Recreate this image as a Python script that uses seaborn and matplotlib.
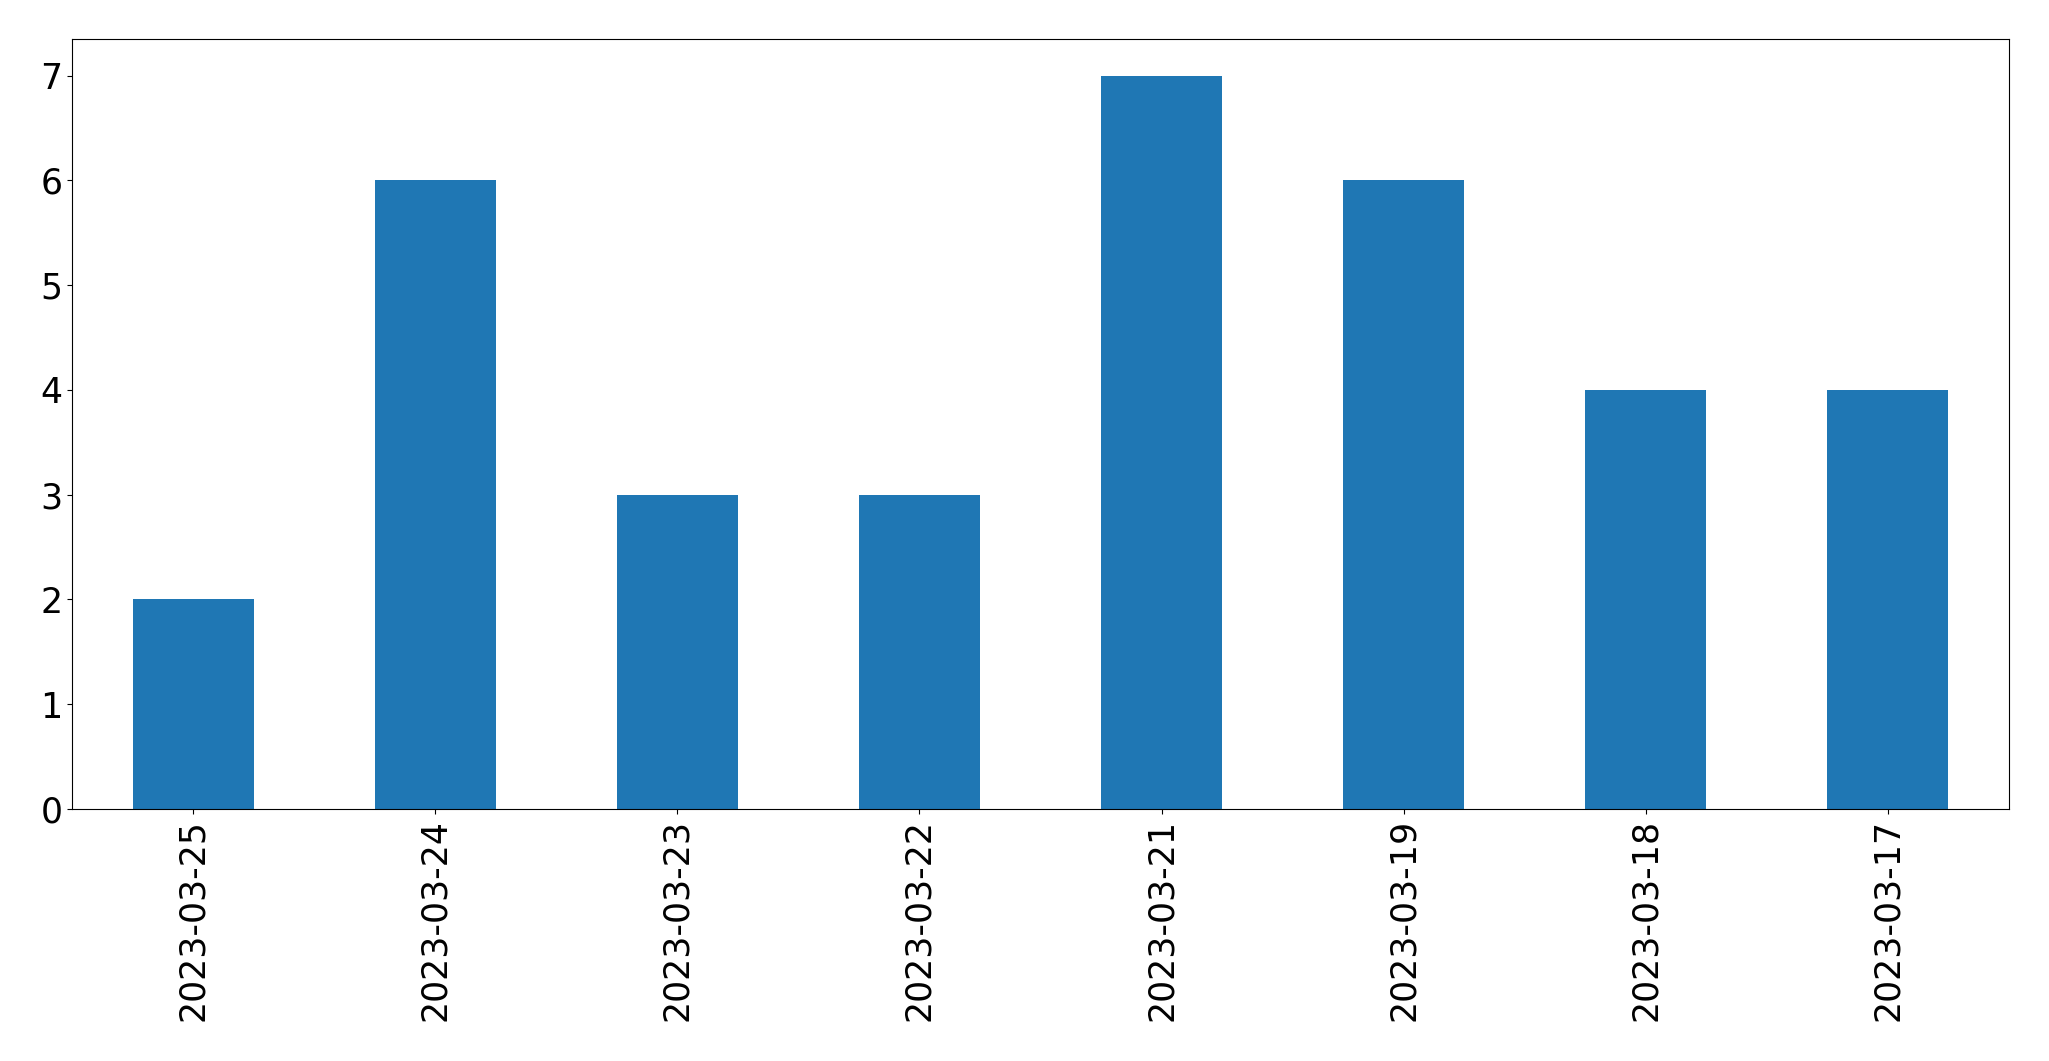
import pandas as pd
import matplotlib
matplotlib.use("Agg")
import matplotlib.pyplot as plt
import seaborn as sns

# data
dates = ["2023-03-25", "2023-03-24", "2023-03-23", "2023-03-22",
         "2023-03-21", "2023-03-19", "2023-03-18", "2023-03-17"]
counts = [2, 6, 3, 3, 7, 6, 4, 4]

df = pd.DataFrame({"date": dates, "count": counts})

fig, ax = plt.subplots(figsize=(20.49, 10.61), dpi=100)
sns.barplot(data=df, x="date", y="count", order=dates, color="#1f77b4",
            saturation=1, width=0.5, linewidth=0, ax=ax)

ax.set_xlim(-0.5, len(dates) - 0.5)
ax.set_ylim(0, max(counts) * 1.05)
ax.set_xlabel("")
ax.set_ylabel("")
ax.tick_params(axis="both", labelsize=25)
ax.tick_params(axis="x", labelrotation=90)

fig.subplots_adjust(left=72 / 2049, right=2009 / 2049,
                    top=1 - 39 / 1061, bottom=1 - 809 / 1061)
fig.savefig("out.png", dpi=100)
